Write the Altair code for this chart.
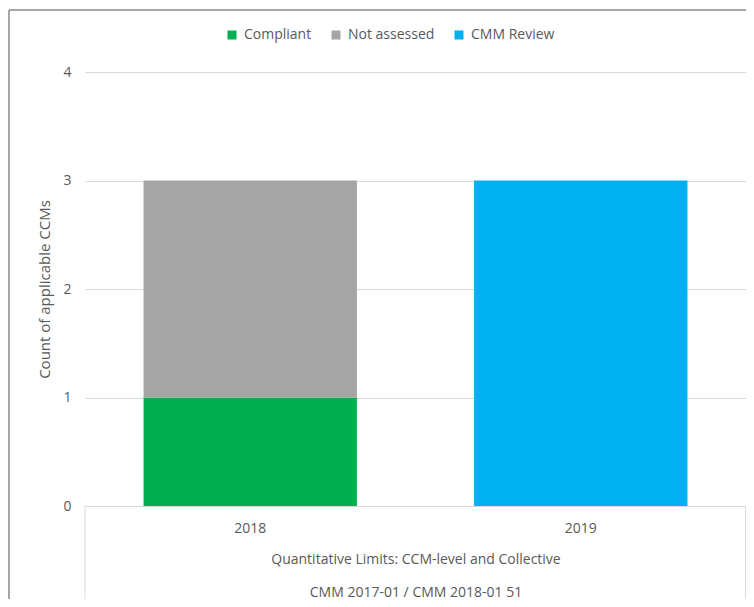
import altair as alt
import pandas as pd

years = ["2018", "2018", "2019"]
statuses = ["Compliant", "Not assessed", "CMM Review"]
counts = [1, 2, 3]
stack_order = [0, 1, 2]
status_order = ["Compliant", "Not assessed", "CMM Review"]
status_colors = ["#00B050", "#A5A5A5", "#00B0F0"]
y_ticks = [0, 1, 2, 3, 4]
x_title = ["Quantitative Limits: CCM-level and Collective", "CMM 2017-01 / CMM 2018-01 51"]
y_title = "Count of applicable CCMs"

df = pd.DataFrame({"Year": years, "Status": statuses, "Count": counts, "Order": stack_order})

W, H = 661, 434
FONT = "Open Sans"
TXT = "#595959"
GRID = "#d9d9d9"
FRAME = "#8a8a8a"
FS = 14

bars = alt.Chart(df).mark_bar().encode(
    x=alt.X(
        "Year:N",
        scale=alt.Scale(paddingInner=0.3544, paddingOuter=0.1772),
        axis=alt.Axis(
            labelAngle=0, ticks=False, domainColor=GRID, domainWidth=1,
            labelPadding=15, labelFontSize=FS, labelColor=TXT, labelFont=FONT,
            title=x_title, titleFont=FONT, titleFontSize=FS, titleFontWeight="normal",
            titleColor=TXT, titlePadding=17, titleLineHeight=33, grid=False,
        ),
    ),
    y=alt.Y(
        "Count:Q",
        stack="zero",
        scale=alt.Scale(domain=[0, 4]),
        axis=alt.Axis(
            values=y_ticks, domain=False, ticks=False, labelPadding=14,
            labelFontSize=FS, labelColor=TXT, labelFont=FONT, gridColor=GRID,
            title=y_title, titleFont=FONT, titleFontSize=15, titleFontWeight="normal",
            titleColor=TXT, titlePadding=10,
        ),
    ),
    color=alt.Color(
        "Status:N",
        scale=alt.Scale(domain=status_order, range=status_colors),
        legend=alt.Legend(
            orient="none", legendX=140, legendY=-44, direction="horizontal",
            title=None, symbolType="square", symbolSize=81, symbolStrokeWidth=0,
            labelFontSize=FS, labelColor=TXT, labelFont=FONT, columnPadding=17,
            labelOffset=5,
        ),
    ),
    order=alt.Order("Order:Q"),
)

one = pd.DataFrame({"k": [0]})

def rule(x, y, x2=None, y2=None, color=GRID, width=1):
    enc = {"x": alt.value(x), "y": alt.value(y)}
    if x2 is not None:
        enc["x2"] = alt.value(x2)
    if y2 is not None:
        enc["y2"] = alt.value(y2)
    return alt.Chart(one).mark_rule(color=color, strokeWidth=width).encode(**enc)

frame = [
    rule(-76, -62, x2=680, color=FRAME, width=1.5),
    rule(-76, -62, y2=540, color=FRAME, width=1.5),
    rule(0, 434, y2=540),
    rule(W - 0.5, 434, y2=540),
]

chart = alt.layer(bars, *frame).properties(
    width=W, height=H,
    autosize=alt.AutoSizeParams(type="none"),
    padding={"left": 77, "top": 64, "right": 0, "bottom": 93},
    background="white",
).configure_view(stroke=None)

chart.save("out.html", embed_options={"renderer": "svg", "actions": False})
